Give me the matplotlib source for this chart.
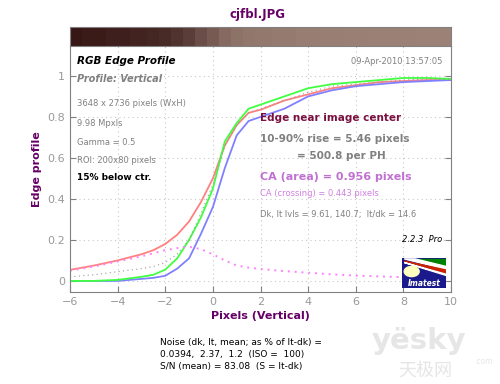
import matplotlib.pyplot as plt
import numpy as np
from matplotlib.colors import LinearSegmentedColormap
from matplotlib.patches import Rectangle, Circle, Polygon

# Edge profile samples (pixels, vertical)
pixels = [-6, -5, -4, -3, -2.5, -2, -1.5, -1, -0.5, 0, 0.5, 1, 1.5, 2, 3, 4, 5, 6, 7, 8, 9, 10]
red = [0.054, 0.075, 0.10, 0.13, 0.15, 0.18, 0.225, 0.29, 0.385, 0.50, 0.66, 0.76, 0.82, 0.835,
       0.88, 0.91, 0.94, 0.955, 0.97, 0.975, 0.98, 0.98]
green = [0.0, 0.0, 0.005, 0.02, 0.03, 0.055, 0.11, 0.20, 0.31, 0.45, 0.68, 0.77, 0.84, 0.86,
         0.90, 0.94, 0.96, 0.97, 0.98, 0.99, 0.99, 0.985]
blue = [0.0, 0.0, 0.0, 0.01, 0.015, 0.025, 0.06, 0.11, 0.23, 0.36, 0.55, 0.71, 0.78, 0.80,
        0.84, 0.90, 0.93, 0.95, 0.96, 0.97, 0.975, 0.98]
lum = [0.02, 0.03, 0.045, 0.06, 0.07, 0.09, 0.13, 0.20, 0.33, 0.47, 0.66, 0.76, 0.82, 0.84,
       0.88, 0.92, 0.95, 0.96, 0.97, 0.98, 0.985, 0.985]
ca_diff = [0.05, 0.07, 0.095, 0.12, 0.135, 0.15, 0.16, 0.167, 0.155, 0.13, 0.10, 0.075, 0.065,
           0.058, 0.048, 0.04, 0.032, 0.026, 0.022, 0.018, 0.016, 0.015]

left_info = ["3648 x 2736 pixels (WxH)", "9.98 Mpxls", "Gamma = 0.5", "ROI: 200x80 pixels"]
noise_lines = ["Noise (dk, lt, mean; as % of lt-dk) =",
               "0.0394,  2.37,  1.2  (ISO =  100)",
               "S/N (mean) = 83.08  (S = lt-dk)"]

gray = "#808080"
purple = "#660066"

fig = plt.figure(figsize=(5.0, 3.84), dpi=100)
ax = fig.add_axes([0.14, 0.2396, 0.762, 0.6406])
bar_ax = fig.add_axes([0.14, 0.8802, 0.762, 0.0495])

ax.plot(pixels, red, color="#ff8080", lw=1.3)
ax.plot(pixels, blue, color="#8080ff", lw=1.3)
ax.plot(pixels, green, color="#40ff40", lw=1.3)
ax.plot(pixels, lum, color="#999999", lw=0.8, ls=(0, (1, 3)))
ax.plot(pixels, ca_diff, color="#ff80ff", lw=1.4, ls=(0, (1, 2.5)))

ax.set_xlim(-6, 10)
ax.set_ylim(-0.054, 1.146)
ax.set_xticks(range(-6, 11, 2))
ax.set_yticks([0, 0.2, 0.4, 0.6, 0.8, 1])
ax.set_yticklabels(["0", "0.2", "0.4", "0.6", "0.8", "1"])
ax.grid(True, color="#c8c8c8", ls=(0, (1, 3)), lw=0.8)
ax.tick_params(direction="in", colors=gray, labelcolor="#999999", labelsize=8, length=4,
               right=True, top=False)
for side in ["left", "bottom", "right"]:
    ax.spines[side].set_color(gray)
ax.spines["top"].set_visible(False)
ax.set_xlabel("Pixels (Vertical)", color=purple, fontweight="bold", fontsize=8, labelpad=3)
ax.set_ylabel("Edge profile", color=purple, fontweight="bold", fontsize=8)
ax.yaxis.set_label_coords(-0.074, 0.5)

# gradient bar built from the luminance profile
edges = np.concatenate([[pixels[0]], (np.array(pixels[1:]) + np.array(pixels[:-1])) / 2, [pixels[-1]]])
cmap = LinearSegmentedColormap.from_list("edge", ["#250505", "#9c8276"])
bar_ax.pcolormesh(edges, [0, 1], np.sqrt(np.array(lum))[None, :], cmap=cmap, vmin=0, vmax=1)
bar_ax.set_xlim(-6, 10)
bar_ax.set_xticks([])
bar_ax.set_yticks([])
for s in bar_ax.spines.values():
    s.set_color(gray)

fig.text(0.516, 0.961, "cjfbl.JPG", color=purple, fontweight="bold", fontsize=8.5,
         ha="center", va="center")

# annotations inside the plot
def put(x, y, s, **kw):
    fig.text(x / 500, 1 - y / 384, s, va="center", **kw)

put(77, 61, "RGB Edge Profile", style="italic", fontweight="bold", fontsize=7.5, color="black")
put(77, 79, "Profile: Vertical", style="italic", fontweight="bold", fontsize=7, color=gray)
for i, s in enumerate(left_info):
    put(77, 104 + i * 19, s, fontsize=6, color=gray)
put(77, 177, "15% below ctr.", fontweight="bold", fontsize=6.5, color="black")

put(442, 61, "09-Apr-2010 13:57:05", ha="right", fontsize=6, color=gray)
put(260, 118, "Edge near image center", fontweight="bold", fontsize=7.5, color="#7a1040")
put(260, 139, "10-90% rise = 5.46 pixels", fontweight="bold", fontsize=7.5, color=gray)
put(297, 156, "= 500.8 per PH", fontweight="bold", fontsize=7.5, color=gray)
put(260, 177, "CA (area) = 0.956 pixels", fontweight="bold", fontsize=8, color="#c070d0")
put(260, 193, "CA (crossing) = 0.443 pixels", fontsize=6, color="#d080e0")
put(260, 214, "Dk, lt lvls = 9.61, 140.7;  lt/dk = 14.6", fontsize=6, color=gray)
put(442, 240, "2.2.3  Pro", ha="right", style="italic", fontsize=6, color="black")

# Imatest logo
logo = fig.add_axes([402 / 500, 1 - 288 / 384, 44 / 500, 30 / 384])
logo.set_xlim(0, 1)
logo.set_ylim(0, 1)
logo.axis("off")
logo.add_patch(Rectangle((0, 0), 1, 1, color="#1a1a8c"))
logo.add_patch(Polygon([(0.3, 0.97), (1, 0.97), (1, 0.72)], color="#008000"))
logo.add_patch(Polygon([(0.05, 0.97), (0.3, 0.97), (1, 0.72), (1, 0.62)], color="white"))
logo.add_patch(Polygon([(0.05, 0.9), (1, 0.6), (1, 0.5)], color="#cc2200"))
logo.add_patch(Polygon([(0.05, 0.85), (1, 0.46), (1, 0.42)], color="white"))
logo.add_patch(Circle((0.22, 0.55), 0.17, color="#ffffc0"))
logo.text(0.5, 0.16, "Imatest", color="white", style="italic", fontweight="bold",
          fontsize=5.5, ha="center", va="center")

for i, s in enumerate(noise_lines):
    put(160, 342 + i * 12.5, s, fontsize=6.5, color="black")

# watermark
put(372, 341, "yësky", fontsize=21, fontweight="bold", color="#e6e6e6")
put(474, 362, ".com", fontsize=5.5, color="#e6e6e6")
put(398, 372, "天极网", fontsize=13, color="#e6e6e6",
    family=["Noto Sans CJK SC", "DejaVu Sans"])

fig.savefig("out.png", dpi=100)
